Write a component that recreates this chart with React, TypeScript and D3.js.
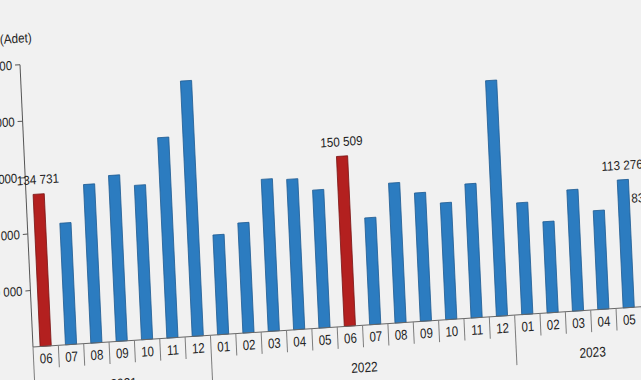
import React from "react";
import * as d3 from "d3";

const months = [
  "06", "07", "08", "09", "10", "11", "12",
  "01", "02", "03", "04", "05", "06", "07", "08", "09", "10", "11", "12",
  "01", "02", "03", "04", "05", "06",
];
const yearLabels = ["2021", "2022", "2023"];
const yearCounts = [7, 12, 6];
const values = [
  134731, 107700, 140500, 147000, 136800, 177500, 226200,
  88400, 97500, 134700, 133200, 122200, 150509, 94600, 123900, 113700, 103400, 118700, 208700,
  99000, 80800, 107500, 87600, 113276, 83500,
];
const highlighted = [0, 12, 24];
const labeled = [0, 12, 23, 24];
const yTicks = [50000, 100000, 150000, 200000, 250000];
const unitLabel = "(Adet)";

const W = 641;
const H = 380;
const CELL = 25.4;
const PLOT_H = 282.5;

export default function App() {
  const x = d3
    .scaleBand<number>()
    .domain(months.map((_, i) => i))
    .range([0, months.length * CELL])
    .paddingInner(0)
    .paddingOuter(0);
  const y = d3.scaleLinear().domain([0, 250000]).range([0, -PLOT_H]);
  const fmt = (v: number) => d3.format(",")(v).replace(/,/g, " ");
  const bw = x.bandwidth() * 0.44;

  const yearStarts: number[] = [];
  let acc = 0;
  yearCounts.forEach((c) => {
    yearStarts.push(acc);
    acc += c;
  });

  const font = "'Liberation Sans', Arial, sans-serif";
  const txt = "#232323";

  return (
    <svg
      width={W}
      height={H}
      style={{ position: "absolute", left: 0, top: 0, background: "#f1f1f1" }}
    >
      <rect x={0} y={0} width={W} height={H} fill="#f1f1f1" />
      <g transform="matrix(0.998,-0.066,0.046,0.999,33,347)">
        {/* unit label */}
        <text
          transform={`translate(-3,-304.5) scale(0.9,1)`}
          textAnchor="middle"
          fontFamily={font}
          fontSize={13}
          fill={txt}
        >
          {unitLabel}
        </text>
        {/* y axis */}
        <line x1={0} x2={0} y1={0} y2={y(250000)} stroke="#555" strokeWidth={1} />
        {yTicks.map((t) => (
          <g key={t}>
            <line x1={-5} x2={0} y1={y(t)} y2={y(t)} stroke="#555" strokeWidth={1} />
            <text
              transform={`translate(-8,${y(t) + 4.5}) scale(0.88,1)`}
              textAnchor="end"
              fontFamily={font}
              fontSize={13}
              fill={txt}
            >
              {fmt(t)}
            </text>
          </g>
        ))}
        {/* bars */}
        {values.map((v, i) => {
          const cx = (x(i) as number) + x.bandwidth() / 2;
          const red = highlighted.includes(i);
          return (
            <rect
              key={i}
              x={cx - bw / 2}
              y={y(v)}
              width={bw}
              height={-y(v)}
              fill={red ? "#b3201f" : "#2c7cc0"}
              stroke={red ? "#7a1414" : "#1f5c93"}
              strokeWidth={0.8}
            />
          );
        })}
        {/* value labels */}
        {labeled.map((i) => {
          const cx = (x(i) as number) + x.bandwidth() / 2;
          return (
            <text
              key={i}
              transform={`translate(${cx},${y(values[i]) - 10}) scale(0.9,1)`}
              textAnchor="middle"
              fontFamily={font}
              fontSize={13}
              fill={txt}
            >
              {fmt(values[i])}
            </text>
          );
        })}
        {/* baseline */}
        <line x1={0} x2={months.length * CELL} y1={0} y2={0} stroke="#666" strokeWidth={1} />
        {/* category ticks */}
        {months.map((_, i) => {
          const isYear = yearStarts.includes(i);
          return (
            <line
              key={i}
              x1={x(i) as number}
              x2={x(i) as number}
              y1={0}
              y2={isYear ? 50 : 22}
              stroke="#7d7d7d"
              strokeWidth={1}
            />
          );
        })}
        {/* month labels */}
        {months.map((m, i) => {
          const cx = (x(i) as number) + x.bandwidth() / 2;
          return (
            <text
              key={i}
              transform={`translate(${cx},17) scale(0.82,1)`}
              textAnchor="middle"
              fontFamily={font}
              fontSize={14}
              fill={txt}
            >
              {m}
            </text>
          );
        })}
        {/* year labels */}
        {yearLabels.map((yl, k) => {
          const start = x(yearStarts[k]) as number;
          const end = start + yearCounts[k] * CELL;
          return (
            <text
              key={yl}
              transform={`translate(${(start + end) / 2},47) scale(0.85,1)`}
              textAnchor="middle"
              fontFamily={font}
              fontSize={14}
              fill={txt}
            >
              {yl}
            </text>
          );
        })}
      </g>
    </svg>
  );
}
